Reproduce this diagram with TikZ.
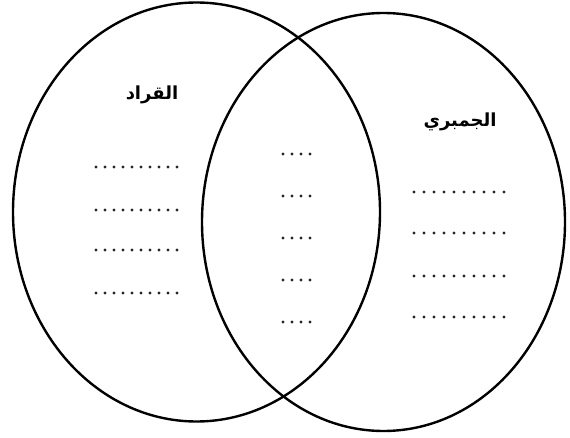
\documentclass[tikz,border=0pt]{standalone}
\usepackage{fontspec}
\newfontfamily\arabicfont[Script=Arabic]{DejaVu Sans}
\TeXXeTstate=1
\usetikzlibrary{shapes.geometric, positioning}

\begin{document}
\begin{tikzpicture}[x=1pt, y=-1pt,
    set/.style={ellipse, draw, line width=2.4pt, inner sep=0pt},
    dotrow/.style={line width=3.2pt, line cap=round, dash pattern=on 0pt off #1, black!85},
    dotrow/.default=9pt,
    title/.style={font=\arabicfont\bfseries\fontsize{18}{20}\selectfont}]
    \useasboundingbox (0,0) rectangle (570,438);

    % Two sets of the diagram
    \node[set, minimum width=367pt, minimum height=419pt] (qurad) at (196.5,212) {};
    \node[set, minimum width=363pt, minimum height=418pt] (jambari) at (383.5,222) {};

    % Names of the sets
    \node[title] (quradname) at (152,95) {\beginR القراد\endR};
    \node[title] (jambariname) at (460,122) {\beginR الجمبري\endR};

    % Dotted rows: left, middle, right
    \foreach \y in {167,210,250,293}
        \draw[dotrow] (96,\y) -- (178,\y);
    \foreach \y in {154,196,238,280,322}
        \draw[dotrow] (283,\y) -- (311,\y);
    \foreach \y in {192,233,276,317}
        \draw[dotrow=10pt] (414,\y) -- (505,\y);

\end{tikzpicture}
\end{document}
